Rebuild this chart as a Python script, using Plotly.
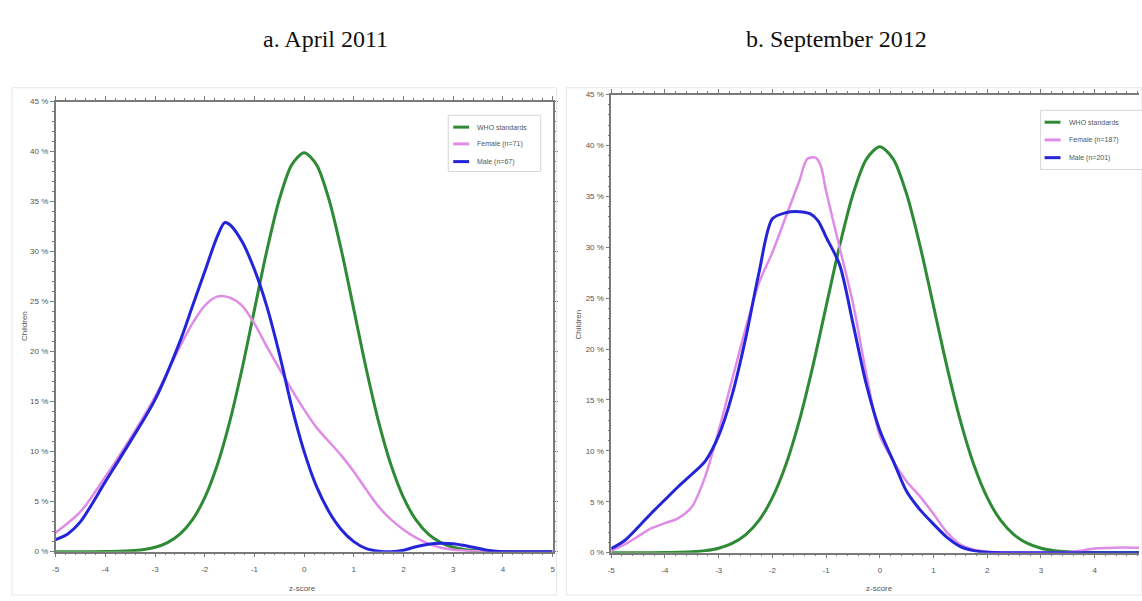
import plotly.graph_objects as go

# ---- Z-score distributions (percentage of children) ----
who_z = [-5, -4.5, -4, -3.75, -3.5, -3.25, -3, -2.75, -2.5, -2.25, -2, -1.75, -1.5, -1.25, -1,
         -0.75, -0.5, -0.25, 0, 0.25, 0.5, 0.75, 1, 1.25, 1.5, 1.75, 2, 2.25, 2.5, 2.75, 3,
         3.25, 3.5, 3.75, 4, 4.5, 5]
who_pct = [0.0, 0.0, 0.01, 0.04, 0.09, 0.2, 0.44, 0.91, 1.75, 3.17, 5.4, 8.63, 12.95, 18.26, 24.2,
           30.11, 35.21, 38.67, 39.89, 38.67, 35.21, 30.11, 24.2, 18.26, 12.95, 8.63, 5.4, 3.17,
           1.75, 0.91, 0.44, 0.2, 0.09, 0.04, 0.01, 0.0, 0.0]

# a. April 2011
f11_z = [-5, -4.5, -4, -3.5, -3, -2.5, -2.25, -2, -1.75, -1.5, -1.25, -1, -0.75, -0.5, -0.25,
         0, 0.25, 0.5, 0.75, 1, 1.25, 1.5, 1.75, 2, 2.25, 2.5, 2.75, 3, 3.5, 4, 5]
f11_pct = [1.9, 4.0, 7.5, 11.3, 15.5, 20.5, 22.8, 24.6, 25.5, 25.4, 24.6, 22.8, 20.5, 18.3, 16.2,
           14.2, 12.4, 11.0, 9.6, 8.0, 6.2, 4.5, 3.2, 2.2, 1.4, 0.8, 0.4, 0.2, 0.05, 0.0, 0.0]
m11_z = [-5, -4.75, -4.5, -4, -3.5, -3, -2.5, -2.25, -2, -1.75, -1.6, -1.5, -1.25, -1, -0.75,
         -0.5, -0.25, 0, 0.25, 0.5, 0.75, 1, 1.25, 1.5, 1.75, 2, 2.25, 2.5, 2.75, 3, 3.25, 3.5,
         3.75, 4, 5]
m11_pct = [1.2, 1.8, 3.0, 7.0, 11.0, 15.2, 21.0, 24.5, 28.0, 31.5, 32.9, 32.7, 31.0, 28.2, 24.5,
           19.8, 14.5, 10.0, 6.5, 4.0, 2.2, 1.0, 0.3, 0.05, 0.0, 0.15, 0.5, 0.75, 0.85, 0.8, 0.6,
           0.35, 0.1, 0.0, 0.0]

# b. September 2012
f12_z = [-5, -4.75, -4.5, -4.25, -4, -3.75, -3.5, -3.25, -3, -2.75, -2.5, -2.25, -2, -1.75, -1.5,
         -1.35, -1.2, -1.1, -1, -0.75, -0.5, -0.25, 0, 0.25, 0.5, 0.75, 1, 1.25, 1.5, 1.75, 2,
         2.5, 3, 3.5, 3.75, 4, 4.5, 5]
f12_pct = [0.2, 0.8, 1.6, 2.4, 2.9, 3.4, 4.5, 7.5, 12.0, 17.0, 22.0, 26.5, 29.5, 33.0, 36.5,
           38.7, 38.8, 38.0, 35.5, 30.0, 24.5, 17.5, 11.5, 9.0, 7.0, 5.5, 3.8, 2.0, 0.8, 0.3, 0.1,
           0.0, 0.0, 0.05, 0.2, 0.4, 0.5, 0.45]
m12_z = [-5, -4.75, -4.5, -4.25, -4, -3.75, -3.5, -3.25, -3, -2.75, -2.5, -2.25, -2, -1.75, -1.5,
         -1.3, -1.15, -1, -0.75, -0.5, -0.25, 0, 0.25, 0.5, 0.75, 1, 1.25, 1.5, 1.75, 2, 2.5, 5]
m12_pct = [0.4, 1.2, 2.5, 3.9, 5.2, 6.5, 7.7, 9.0, 11.5, 15.5, 21.0, 27.5, 32.8, 33.4, 33.5,
           33.3, 32.6, 31.0, 28.3, 22.5, 16.5, 12.0, 9.0, 6.0, 4.2, 2.8, 1.5, 0.6, 0.2, 0.05, 0.0,
           0.0]

panel_titles = ["a. April 2011", "b. September 2012"]
legend_left = ["WHO standards", "Female (n=71)", "Male (n=67)"]
legend_right = ["WHO standards", "Female (n=187)", "Male (n=201)"]
y_ticks = [0, 5, 10, 15, 20, 25, 30, 35, 40, 45]
x_ticks = [-5, -4, -3, -2, -1, 0, 1, 2, 3, 4, 5]

GREEN = "#2f8a35"
PINK = "#e08ce6"
BLUE = "#2424d8"
AXIS = "#7a7a7a"
TICKFONT = dict(family="Liberation Sans, Arial", size=8, color="#555555")

W, H = 1142, 601

fig = go.Figure()


def add_panel(xa, ya, f_z, f_pct, m_z, m_pct):
    common = dict(mode="lines", line_shape="spline", showlegend=False, xaxis=xa, yaxis=ya,
                  hoverinfo="skip")
    fig.add_trace(go.Scatter(x=who_z, y=who_pct, line=dict(color=GREEN, width=3, smoothing=0.8), **common))
    fig.add_trace(go.Scatter(x=f_z, y=f_pct, line=dict(color=PINK, width=2.5, smoothing=0.8), **common))
    fig.add_trace(go.Scatter(x=m_z, y=m_pct, line=dict(color=BLUE, width=3, smoothing=0.8), **common))


add_panel("x", "y", f11_z, f11_pct, m11_z, m11_pct)
add_panel("x2", "y2", f12_z, f12_pct, m12_z, m12_pct)


def px_x(p):
    return p / W


def px_y(p):
    return 1 - p / H


axis_common = dict(
    showgrid=False, zeroline=False, showline=True, linecolor=AXIS, linewidth=1.5,
    ticks="outside", ticklen=4, tickcolor=AXIS, tickwidth=1, tickfont=TICKFONT,
    minor=dict(ticks="outside", ticklen=2, tickcolor=AXIS, tickwidth=1),
)

y_text = [f"{v} %" for v in y_ticks]
x_text = [str(v) for v in x_ticks]

fig.update_layout(
    width=W, height=H, margin=dict(l=0, r=0, t=0, b=0),
    paper_bgcolor="white", plot_bgcolor="white",
    xaxis=dict(domain=[px_x(52), px_x(552)], range=[-5, 5], tickvals=x_ticks, ticktext=x_text,
               ticklabelstandoff=5, minor_dtick=0.2, mirror="allticks", anchor="y",
               **axis_common),
    yaxis=dict(domain=[px_y(556), px_y(99)], range=[0, 45], tickvals=y_ticks, ticktext=y_text,
               minor_dtick=1, mirror="allticks", anchor="x", **axis_common),
    xaxis2=dict(domain=[px_x(611), 1.0], range=[-5, (1142 - 881) / 54.1], tickvals=x_ticks,
                ticktext=x_text, ticklabelstandoff=5, minor_dtick=0.2, mirror="allticks",
                anchor="y2", **axis_common),
    yaxis2=dict(domain=[px_y(557), px_y(92)], range=[0, 45], tickvals=y_ticks, ticktext=y_text,
                minor_dtick=1, mirror=False, anchor="x2", **axis_common),
)

annotations = []
shapes = []

# panel headings
for title, cx in zip(panel_titles, [323, 838]):
    annotations.append(dict(text=title, x=px_x(cx), y=px_y(36), xref="paper", yref="paper",
                            showarrow=False, xanchor="center", yanchor="middle",
                            font=dict(family="Liberation Serif, Times New Roman", size=24,
                                      color="#111111")))

# axis titles
for cx, cy in [(300, 593), (881, 593)]:
    annotations.append(dict(text="z-score", x=px_x(cx), y=px_y(cy), xref="paper", yref="paper",
                            showarrow=False, xanchor="center", yanchor="middle", font=TICKFONT))
for cx, cy in [(20, 327), (578, 325)]:
    annotations.append(dict(text="Children", x=px_x(cx), y=px_y(cy), xref="paper", yref="paper",
                            showarrow=False, textangle=-90, xanchor="center", yanchor="middle",
                            font=TICKFONT))

# faint frames around each panel
for x0, x1 in [(8, 556), (566, 1145)]:
    shapes.append(dict(type="rect", xref="paper", yref="paper", x0=px_x(x0), x1=px_x(x1),
                       y0=px_y(600), y1=px_y(85), line=dict(color="#e6e6e6", width=1)))


# legends
def add_legend(labels, box, rows, line_x, text_x):
    x0, y0, x1, y1 = box
    shapes.append(dict(type="rect", xref="paper", yref="paper", x0=px_x(x0), x1=px_x(x1),
                       y0=px_y(y1), y1=px_y(y0), line=dict(color="#d8d8d8", width=1),
                       fillcolor="white"))
    for label, color, ry in zip(labels, [GREEN, PINK, BLUE], rows):
        shapes.append(dict(type="line", xref="paper", yref="paper", x0=px_x(line_x[0]),
                           x1=px_x(line_x[1]), y0=px_y(ry), y1=px_y(ry),
                           line=dict(color=color, width=3)))
        annotations.append(dict(text=label, x=px_x(text_x), y=px_y(ry), xref="paper",
                                yref="paper", showarrow=False, xanchor="left", yanchor="middle",
                                font=dict(family="Liberation Sans, Arial", size=7,
                                          color="#555555")))


add_legend(legend_left, (447, 113, 540, 170), [125, 142, 160], (452, 468), 474)
add_legend(legend_right, (1043, 108, 1150, 168), [120, 138, 156], (1047, 1063), 1070)

fig.update_layout(annotations=annotations, shapes=shapes)

fig.write_html("out.html")
